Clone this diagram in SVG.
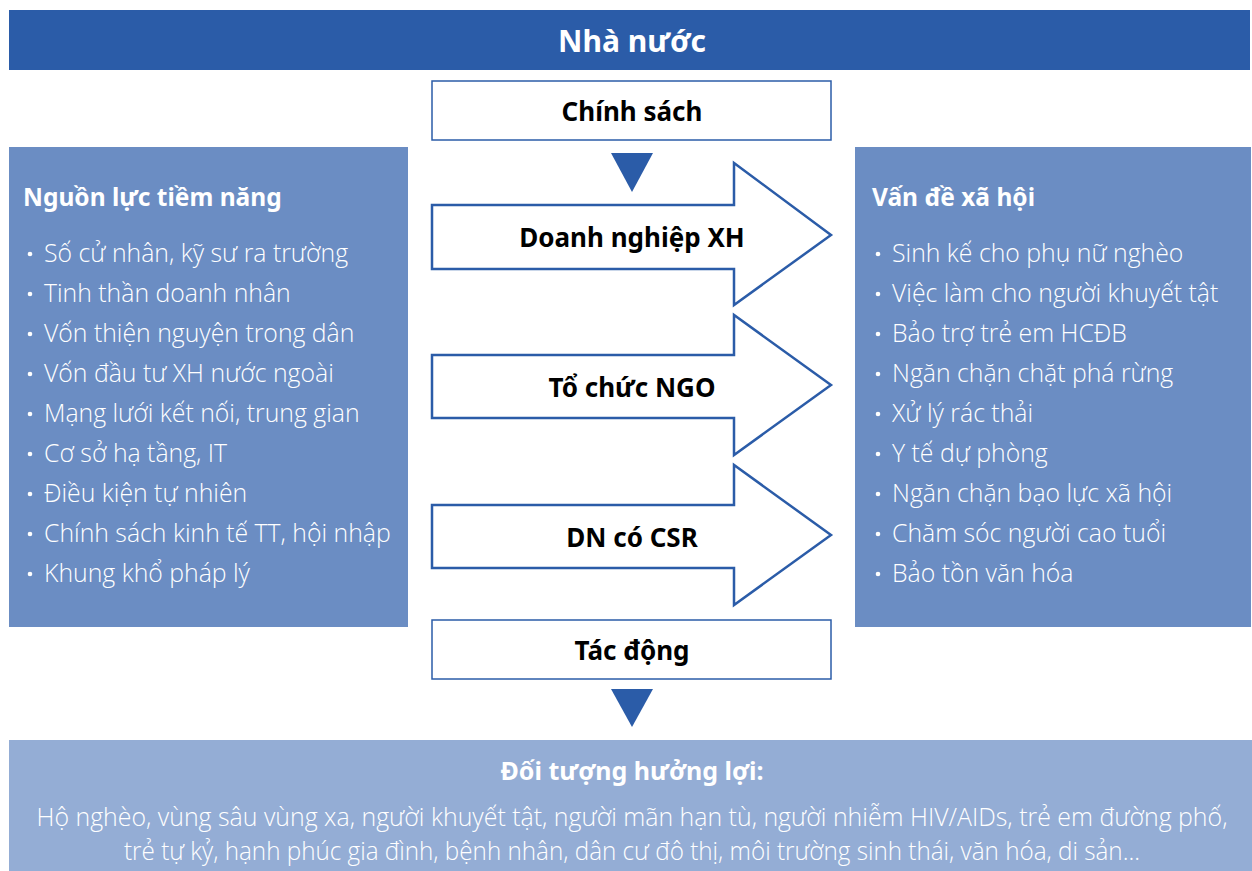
<svg xmlns="http://www.w3.org/2000/svg" width="1252" height="871" viewBox="0 0 1252 871">
<style>
.bold{font-family:"Noto Sans","Open Sans",sans-serif;font-weight:700}
.light{font-family:"Open Sans","Noto Sans",sans-serif;font-weight:300;fill:#fff;font-size:24.8px}
.box{fill:#fff;stroke:#2B5CA8;stroke-width:1.5}
.arrow{fill:#fff;stroke:#2B5CA8;stroke-width:2.5;stroke-linejoin:miter}
.tri{fill:#2B5CA8}
.dot{fill:#fff}
.nodelabel{font-size:26px;fill:#000;text-anchor:middle}
.ptitle{font-size:24.5px;fill:#fff}
</style>
<rect width="1252" height="871" fill="#fff"/>
<g id="nha-nuoc">
<rect x="9" y="10" width="1241" height="60" fill="#2B5CA8"/>
<text x="632" y="52" class="bold" font-size="30" fill="#fff" text-anchor="middle">Nhà nước</text>
</g>
<g id="chinh-sach">
<rect x="432" y="81" width="399" height="59" class="box"/>
<text x="632" y="121" class="bold nodelabel">Chính sách</text>
</g>
<g id="nguon-luc">
<rect x="9" y="147" width="399" height="480" fill="#6B8DC3"/>
<text x="23" y="206" class="bold ptitle">Nguồn lực tiềm năng</text>
<g class="dot">
<circle cx="30" cy="254" r="2.3"/><circle cx="30" cy="294" r="2.3"/><circle cx="30" cy="334" r="2.3"/>
<circle cx="30" cy="374" r="2.3"/><circle cx="30" cy="414" r="2.3"/><circle cx="30" cy="454" r="2.3"/>
<circle cx="30" cy="494" r="2.3"/><circle cx="30" cy="534" r="2.3"/><circle cx="30" cy="574" r="2.3"/>
</g>
<g class="light">
<text x="44" y="262">Số cử nhân, kỹ sư ra trường</text>
<text x="44" y="302">Tinh thần doanh nhân</text>
<text x="44" y="342">Vốn thiện nguyện trong dân</text>
<text x="44" y="382">Vốn đầu tư XH nước ngoài</text>
<text x="44" y="422">Mạng lưới kết nối, trung gian</text>
<text x="44" y="462">Cơ sở hạ tầng, IT</text>
<text x="44" y="502">Điều kiện tự nhiên</text>
<text x="44" y="542">Chính sách kinh tế TT, hội nhập</text>
<text x="44" y="582">Khung khổ pháp lý</text>
</g>
</g>
<g id="van-de">
<rect x="855" y="147" width="396" height="480" fill="#6B8DC3"/>
<text x="872" y="206" class="bold ptitle">Vấn đề xã hội</text>
<g class="dot">
<circle cx="878" cy="254" r="2.3"/><circle cx="878" cy="294" r="2.3"/><circle cx="878" cy="334" r="2.3"/>
<circle cx="878" cy="374" r="2.3"/><circle cx="878" cy="414" r="2.3"/><circle cx="878" cy="454" r="2.3"/>
<circle cx="878" cy="494" r="2.3"/><circle cx="878" cy="534" r="2.3"/><circle cx="878" cy="574" r="2.3"/>
</g>
<g class="light">
<text x="892" y="262">Sinh kế cho phụ nữ nghèo</text>
<text x="892" y="302">Việc làm cho người khuyết tật</text>
<text x="892" y="342">Bảo trợ trẻ em HCĐB</text>
<text x="892" y="382">Ngăn chặn chặt phá rừng</text>
<text x="892" y="422">Xử lý rác thải</text>
<text x="892" y="462">Y tế dự phòng</text>
<text x="892" y="502">Ngăn chặn bạo lực xã hội</text>
<text x="892" y="542">Chăm sóc người cao tuổi</text>
<text x="892" y="582">Bảo tồn văn hóa</text>
</g>
</g>
<g id="connectors">
<polygon class="tri" points="611,153 653,153 632,192"/>
<polygon class="tri" points="611,689 653,689 632,727"/>
</g>
<g id="doanh-nghiep-xh">
<polygon class="arrow" points="432,205 734,205 734,163 831,235 734,305 734,269 432,269"/>
<text x="632" y="247" class="bold nodelabel">Doanh nghiệp XH</text>
</g>
<g id="to-chuc-ngo">
<polygon class="arrow" points="432,355 734,355 734,315 831,385 734,455 734,418 432,418"/>
<text x="632" y="397" class="bold nodelabel">Tổ chức NGO</text>
</g>
<g id="dn-csr">
<polygon class="arrow" points="432,505 734,505 734,465 831,535 734,605 734,568 432,568"/>
<text x="632" y="547" class="bold nodelabel">DN có CSR</text>
</g>
<g id="tac-dong">
<rect x="432" y="620" width="399" height="59" class="box"/>
<text x="632" y="660" class="bold nodelabel">Tác động</text>
</g>
<g id="doi-tuong">
<rect x="9" y="740" width="1243" height="131" fill="#94ADD5"/>
<text x="632" y="780" class="bold" font-size="25" fill="#fff" text-anchor="middle">Đối tượng hưởng lợi:</text>
<text x="632" y="826" class="light" text-anchor="middle" textLength="1191" lengthAdjust="spacingAndGlyphs">Hộ nghèo, vùng sâu vùng xa, người khuyết tật, người mãn hạn tù, người nhiễm HIV/AIDs, trẻ em đường phố,</text>
<text x="632" y="860" class="light" text-anchor="middle" textLength="1016" lengthAdjust="spacingAndGlyphs">trẻ tự kỷ, hạnh phúc gia đình, bệnh nhân, dân cư đô thị, môi trường sinh thái, văn hóa, di sản...</text>
</g>
</svg>
